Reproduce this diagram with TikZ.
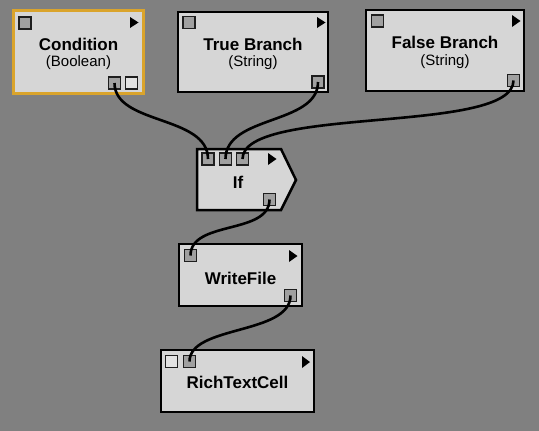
\documentclass[tikz,border=0pt]{standalone}
\usepackage{fontspec}
\setmainfont{Liberation Sans}
\definecolor{bg}{RGB}{128,128,128}
\definecolor{boxfill}{RGB}{214,214,214}
\definecolor{gold}{RGB}{218,164,44}
\definecolor{portgray}{RGB}{160,160,160}
\definecolor{portlight}{RGB}{226,226,226}
\definecolor{portedge}{RGB}{30,30,30}
\begin{document}
\begin{tikzpicture}[x=1pt,y=-1pt,
  boxnode/.style={draw=black,line width=2.5pt,fill=boxfill,inner sep=0pt,rectangle},
  titletxt/.style={anchor=base,inner sep=0pt,font=\fontsize{17}{20}\selectfont\bfseries},
  subtxt/.style={anchor=base,inner sep=0pt,font=\fontsize{15}{18}\selectfont},
  portg/.style={draw=portedge,line width=1.2pt,fill=portgray,minimum size=12pt,inner sep=0pt,rectangle},
  portw/.style={draw=portedge,line width=1.2pt,fill=portlight,minimum size=12pt,inner sep=0pt,rectangle},
  wire/.style={draw=black,line width=2.6pt},
  tri/.style={fill=black}]
\useasboundingbox[fill=bg] (0,0) rectangle (539,431);

% Condition
\node[boxnode,draw=gold,line width=3pt,minimum width=130pt,minimum height=83pt] (cond) at (78.5,52) {};
\node[titletxt] (condt) at (78.5,50) {Condition};
\node[subtxt] (conds) at (78.5,66.5) {(Boolean)};
\node[portg] (condin) at (25,23) {};
\node[portg] (condout) at (114.5,83) {};
\node[portw] (condx) at (131.5,83) {};
\fill[tri] (130,17) -- (138.5,22.5) -- (130,28) -- cycle;

% True Branch
\node[boxnode,minimum width=150pt,minimum height=80pt] (tb) at (253,52) {};
\node[titletxt] (tbt) at (253,50) {True Branch};
\node[subtxt] (tbs) at (253,66.5) {(String)};
\node[portg] (tbin) at (189,22.5) {};
\node[portg] (tbout) at (318,82) {};
\fill[tri] (317,17) -- (325.5,22.5) -- (317,28) -- cycle;

% False Branch
\node[boxnode,minimum width=158pt,minimum height=81pt] (fb) at (445,50.5) {};
\node[titletxt] (fbt) at (445,48.5) {False Branch};
\node[subtxt] (fbs) at (445,65) {(String)};
\node[portg] (fbin) at (377.5,21) {};
\node[portg] (fbout) at (513.5,80.5) {};
\fill[tri] (512,15) -- (520.5,21) -- (512,27) -- cycle;

% If
\draw[line width=2.5pt,fill=boxfill,line join=miter] (197,149) -- (281,149) -- (296,180) -- (281,210) -- (197,210) -- cycle;
\node[titletxt] (ift) at (238,188) {If};
\node[portg] (if1) at (208,159) {};
\node[portg] (if2) at (225.5,159) {};
\node[portg] (if3) at (242.5,159) {};
\node[portg] (ifout) at (269.5,199.5) {};
\fill[tri] (268,153) -- (276.5,159) -- (268,165) -- cycle;

% WriteFile
\node[boxnode,minimum width=123pt,minimum height=62pt] (wf) at (240.5,275) {};
\node[titletxt] (wft) at (240.5,284) {WriteFile};
\node[portg] (wfin) at (190.5,255.5) {};
\node[portg] (wfout) at (290.5,295.5) {};
\fill[tri] (289,250) -- (297.5,256) -- (289,262) -- cycle;

% RichTextCell
\node[boxnode,minimum width=153pt,minimum height=62pt] (rt) at (237.5,381) {};
\node[titletxt] (rtt) at (237.5,388) {RichTextCell};
\node[portw] (rtx) at (171.5,361.5) {};
\node[portg] (rtin) at (189.5,361.5) {};
\fill[tri] (302,356) -- (310,362) -- (302,368) -- cycle;

% wires
\draw[wire] (condout.center) .. controls (114.5,125) and (208,115) .. (if1.center);
\draw[wire] (tbout.center) .. controls (318,125) and (225.5,115) .. (if2.center);
\draw[wire] (fbout.center) .. controls (513.5,135) and (242.5,105) .. (if3.center);
\draw[wire] (ifout.center) .. controls (269.5,235) and (190.5,220) .. (wfin.center);
\draw[wire] (wfout.center) .. controls (290.5,335) and (189.5,325) .. (rtin.center);
\end{tikzpicture}
\end{document}
